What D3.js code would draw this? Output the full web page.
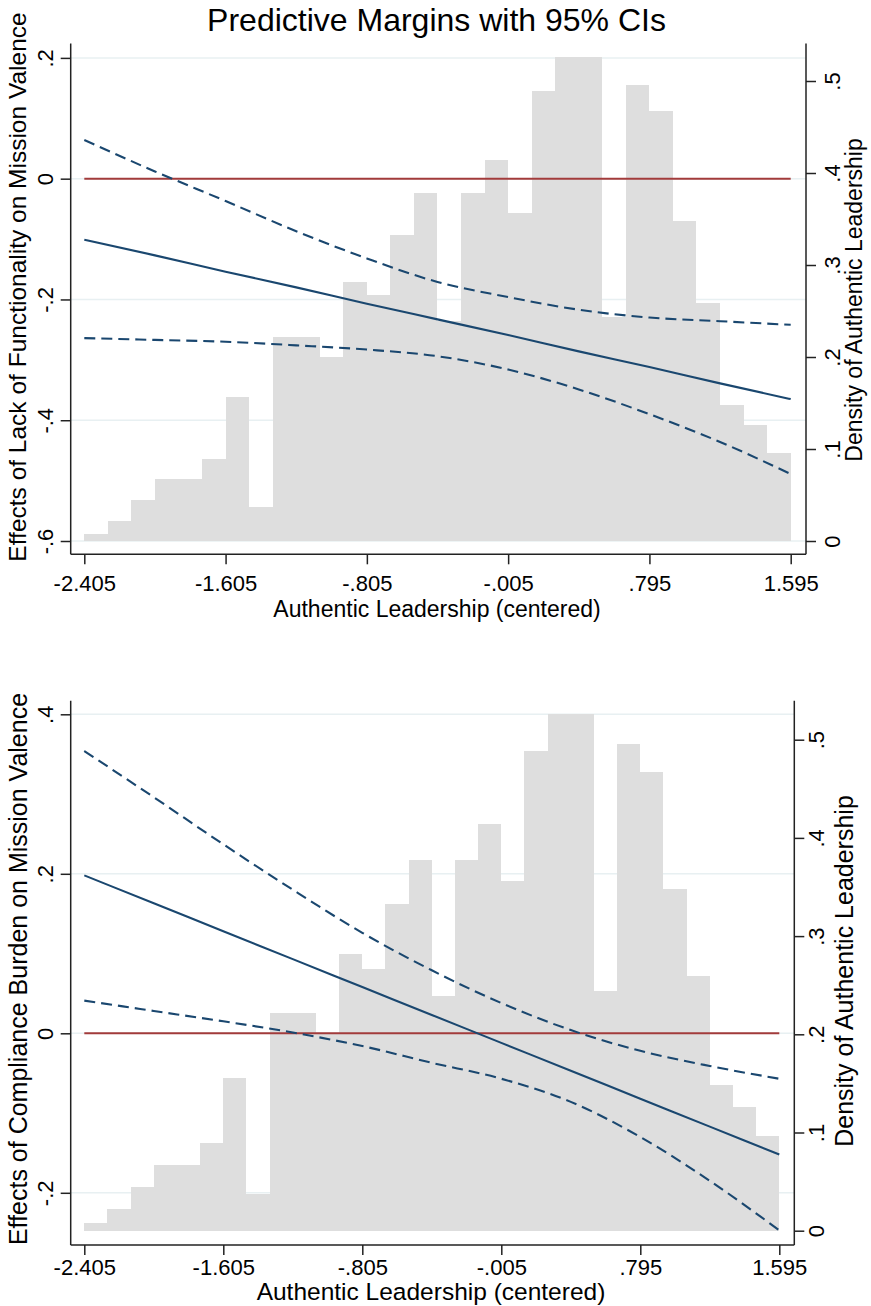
<!DOCTYPE html>
<html>
<head>
<meta charset="utf-8">
<script src="https://cdn.jsdelivr.net/npm/d3@7"></script>
<style>
body { margin: 0; background: #fff; }
svg text { font-family: "Liberation Sans", Arial, sans-serif; fill: #000; }
</style>
</head>
<body>
<svg id="chart" width="871" height="1306"></svg>
<script>
// points where the margins were evaluated (authentic leadership, centered)
var atValues = [-2.405, -2.005, -1.605, -1.205, -0.805, -0.405, -0.005, 0.395, 0.795, 1.195, 1.595];

// top panel: lack of functionality
var topMargin = [-0.101, -0.127, -0.154, -0.180, -0.207, -0.233, -0.259, -0.286, -0.312, -0.339, -0.365];
var topUpper  = [0.064, 0.012, -0.037, -0.087, -0.132, -0.171, -0.196, -0.217, -0.230, -0.236, -0.242];
var topLower  = [-0.264, -0.267, -0.270, -0.276, -0.283, -0.294, -0.316, -0.349, -0.390, -0.436, -0.489];

// bottom panel: compliance burden
var botMargin = [0.198, 0.163, 0.128, 0.093, 0.058, 0.023, -0.012, -0.047, -0.082, -0.117, -0.152];
var botUpper  = [0.354, 0.296, 0.237, 0.180, 0.126, 0.079, 0.038, 0.004, -0.022, -0.041, -0.057];
var botLower  = [0.041, 0.028, 0.015, 0.001, -0.016, -0.037, -0.057, -0.086, -0.130, -0.185, -0.247];

// histogram of authentic leadership (density), 30 bins
var histStart = -2.405,
    histWidth = 0.13333;
var histDensity = [0.008, 0.022, 0.045, 0.067, 0.067, 0.089, 0.156, 0.037, 0.222, 0.222,
                   0.200, 0.282, 0.267, 0.333, 0.378, 0.239, 0.378, 0.414, 0.356, 0.489,
                   0.526, 0.526, 0.244, 0.496, 0.467, 0.348, 0.259, 0.148, 0.126, 0.096];

// ticks
var xTicks = [-2.405, -1.605, -0.805, -0.005, 0.795, 1.595];
var xTickLabels = ["-2.405", "-1.605", "-.805", "-.005", ".795", "1.595"];
var densityTicks = [0, 0.1, 0.2, 0.3, 0.4, 0.5];
var densityTickLabels = ["0", ".1", ".2", ".3", ".4", ".5"];
var topYTicks = [-0.6, -0.4, -0.2, 0, 0.2];
var topYTickLabels = ["-.6", "-.4", "-.2", "0", ".2"];
var botYTicks = [-0.2, 0, 0.2, 0.4];
var botYTickLabels = ["-.2", "0", ".2", ".4"];

var navy = "#1a476f",
    maroon = "#a23b3b",
    axisColor = "#222";

var svg = d3.select("#chart");

svg.append("text")
    .attr("x", 436.5).attr("y", 31)
    .attr("text-anchor", "middle")
    .style("font-size", "32px")
    .text("Predictive Margins with 95% CIs");

function drawPanel(p) {
    let g = svg.append("g");

    let x = d3.scaleLinear().domain([-2.405, 1.595]).range([p.xFrom, p.xTo]);
    let y = d3.scaleLinear().domain(p.yDomain).range(p.yRange);
    let yd = d3.scaleLinear().domain([0, 0.5]).range([p.dZero, p.dHalf]);

    // light grid lines at the left axis ticks
    g.selectAll(".grid").data(p.yTicks).enter().append("line")
        .attr("class", "grid")
        .attr("x1", p.left).attr("x2", p.right)
        .attr("y1", d => y(d)).attr("y2", d => y(d))
        .attr("stroke", "#e8f0f2").attr("stroke-width", 1.5);

    // histogram
    g.selectAll(".bar").data(histDensity).enter().append("rect")
        .attr("class", "bar")
        .attr("x", (d, i) => x(histStart + i * histWidth))
        .attr("width", (d, i) => x(histStart + (i + 1) * histWidth) - x(histStart + i * histWidth))
        .attr("y", d => yd(d))
        .attr("height", d => yd(0) - yd(d))
        .attr("fill", "#dedede")
        .attr("shape-rendering", "crispEdges");

    // reference line at zero
    g.append("line")
        .attr("x1", x(atValues[0])).attr("x2", x(atValues[atValues.length - 1]))
        .attr("y1", y(0)).attr("y2", y(0))
        .attr("stroke", maroon).attr("stroke-width", 2);

    let line = d3.line()
        .x((d, i) => x(atValues[i]))
        .y(d => y(d))
        .curve(d3.curveMonotoneX);

    [p.upper, p.lower].forEach(function(arr) {
        g.append("path")
            .attr("d", line(arr))
            .attr("fill", "none")
            .attr("stroke", navy).attr("stroke-width", 2.1)
            .attr("stroke-dasharray", "11,6");
    });

    g.append("path")
        .attr("d", line(p.margin))
        .attr("fill", "none")
        .attr("stroke", navy).attr("stroke-width", 2.1);

    // axis lines across the plot region
    g.append("line").attr("x1", p.left).attr("x2", p.left).attr("y1", p.top).attr("y2", p.bottom)
        .attr("stroke", axisColor).attr("stroke-width", 1.5);
    g.append("line").attr("x1", p.right).attr("x2", p.right).attr("y1", p.top).attr("y2", p.bottom)
        .attr("stroke", axisColor).attr("stroke-width", 1.5);
    g.append("line").attr("x1", p.left).attr("x2", p.right).attr("y1", p.bottom).attr("y2", p.bottom)
        .attr("stroke", axisColor).attr("stroke-width", 1.5);

    // x axis
    let xAxis = g.append("g")
        .attr("transform", "translate(0," + p.bottom + ")")
        .call(d3.axisBottom(x)
            .tickValues(xTicks)
            .tickFormat((d, i) => xTickLabels[i])
            .tickSize(10)
            .tickPadding(p.xPad));
    xAxis.select(".domain").remove();
    xAxis.attr("font-size", null).attr("font-family", null);
    xAxis.selectAll("line").attr("stroke", axisColor).attr("stroke-width", 1.5);
    xAxis.selectAll("text").style("font-size", "22px");

    // left y axis, labels turned
    let yAxis = g.append("g")
        .attr("transform", "translate(" + p.left + ",0)")
        .call(d3.axisLeft(y)
            .tickValues(p.yTicks)
            .tickFormat((d, i) => p.yTickLabels[i])
            .tickSize(10));
    yAxis.select(".domain").remove();
    yAxis.attr("font-size", null).attr("font-family", null);
    yAxis.selectAll("line").attr("stroke", axisColor).attr("stroke-width", 1.5);
    yAxis.selectAll("text")
        .attr("x", 0).attr("dy", null)
        .attr("text-anchor", "middle")
        .attr("transform", "translate(" + p.leftLab + ",0) rotate(-90)")
        .style("font-size", "22px");

    // right density axis
    let dAxis = g.append("g")
        .attr("transform", "translate(" + p.right + ",0)")
        .call(d3.axisRight(yd)
            .tickValues(densityTicks)
            .tickFormat((d, i) => densityTickLabels[i])
            .tickSize(10));
    dAxis.select(".domain").remove();
    dAxis.attr("font-size", null).attr("font-family", null);
    dAxis.selectAll("line").attr("stroke", axisColor).attr("stroke-width", 1.5);
    dAxis.selectAll("text")
        .attr("x", 0).attr("dy", null)
        .attr("text-anchor", "middle")
        .attr("transform", "translate(" + p.rightLab + ",0) rotate(-90)")
        .style("font-size", "22px");

    // axis titles
    g.append("text")
        .attr("x", p.xTitleX).attr("y", p.xTitleY)
        .attr("text-anchor", "middle")
        .style("font-size", p.xTitleSize + "px")
        .text("Authentic Leadership (centered)");

    g.append("text")
        .attr("transform", "translate(" + p.yTitleX + "," + p.yTitleY + ") rotate(-90)")
        .attr("text-anchor", "middle")
        .style("font-size", p.yTitleSize + "px")
        .text(p.yTitle);

    g.append("text")
        .attr("transform", "translate(" + p.dTitleX + "," + p.dTitleY + ") rotate(-90)")
        .attr("text-anchor", "middle")
        .style("font-size", p.dTitleSize + "px")
        .text("Density of Authentic Leadership");
}

drawPanel({
    left: 70.7, right: 806, top: 43.5, bottom: 554.3,
    xFrom: 84.3, xTo: 790.7,
    yDomain: [-0.6, 0.2], yRange: [541, 57.9],
    dZero: 541, dHalf: 81,
    yTicks: topYTicks, yTickLabels: topYTickLabels,
    margin: topMargin, upper: topUpper, lower: topLower,
    xPad: 11, leftLab: -17.7, rightLab: 33.6,
    xTitleX: 437, xTitleY: 617, xTitleSize: 23,
    yTitle: "Effects of Lack of Functionality on Mission Valence",
    yTitleX: 26, yTitleY: 287, yTitleSize: 24.5,
    dTitleX: 862, dTitleY: 300, dTitleSize: 23
});

drawPanel({
    left: 70.7, right: 794.3, top: 700.7, bottom: 1245,
    xFrom: 84.3, xTo: 779.3,
    yDomain: [-0.2, 0.4], yRange: [1192.8, 714.3],
    dZero: 1230.7, dHalf: 739.7,
    yTicks: botYTicks, yTickLabels: botYTickLabels,
    margin: botMargin, upper: botUpper, lower: botLower,
    xPad: 4.5, leftLab: -17.7, rightLab: 29.6,
    xTitleX: 431, xTitleY: 1300, xTitleSize: 24.5,
    yTitle: "Effects of Compliance Burden on Mission Valence",
    yTitleX: 27, yTitleY: 969, yTitleSize: 25,
    dTitleX: 853, dTitleY: 971, dTitleSize: 25
});
</script>
</body>
</html>
